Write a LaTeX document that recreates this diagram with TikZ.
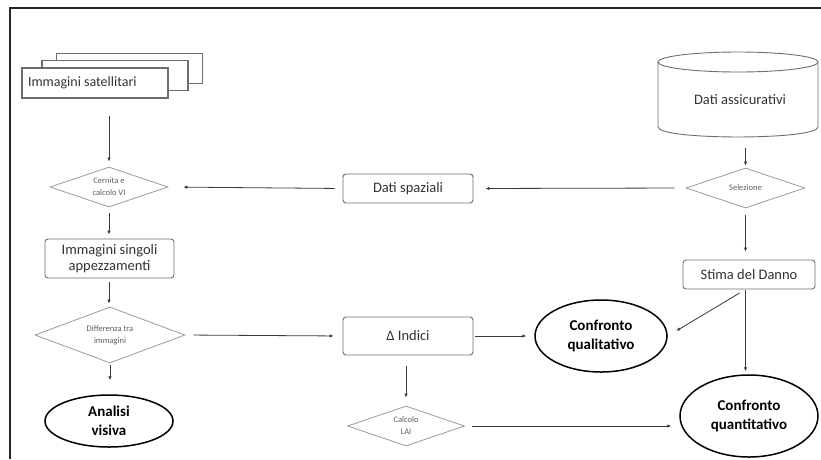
\documentclass[tikz,border=0pt]{standalone}
\usepackage{fontspec}
\setmainfont{Carlito}
\usetikzlibrary{shapes.geometric,arrows.meta}
\definecolor{boxgray}{HTML}{6E6E6E}
\definecolor{diagray}{HTML}{9A9A9A}
\definecolor{txtgray}{HTML}{333333}
\definecolor{smalltxt}{HTML}{5E5E5E}
\definecolor{arrgray}{HTML}{3A3A3A}
\tikzset{
  procbox/.style={draw=boxgray, line width=0.9pt, rounded corners=3pt, fill=white,
    text=txtgray, font=\fontsize{14.5}{17}\selectfont, align=center, inner sep=0pt},
  stackbox/.style={draw=boxgray, line width=1.1pt, fill=white, inner sep=0pt,
    minimum width=146pt, minimum height=30pt},
  decis/.style={diamond, draw=diagray, line width=0.8pt, aspect=3, inner sep=0pt,
    text=smalltxt, font=\fontsize{8.5}{12}\selectfont, align=center},
  term/.style={ellipse, draw=black, line width=1.5pt, inner sep=0pt,
    font=\bfseries\fontsize{15}{19.5}\selectfont, align=center},
  arr/.style={draw=arrgray, line width=0.8pt, -{Latex[length=4pt,width=3.5pt]}},
  frameline/.style={draw=black!85, line width=1.2pt}
}
\begin{document}
\begin{tikzpicture}[x=1pt,y=-1pt]
\useasboundingbox (0,0) rectangle (821,459);
\draw[frameline] (10,459) -- (10,8) -- (821,8);

% stacked satellite images
\node[stackbox] (satc) at (129.5,68.5) {};
\node[stackbox] (satb) at (115,75.5) {};
\node[stackbox, text=txtgray, font=\fontsize{14}{16}\selectfont, align=left] (sat) at (95,83)
  {\makebox[134pt][l]{Immagini satellitari}};

% left column
\node[decis, minimum width=118pt, minimum height=40pt] (cern) at (109,187) {Cernita e\\calcolo VI};
\node[procbox, minimum width=129pt, minimum height=39pt, font=\fontsize{14.5}{16.5}\selectfont] (imm) at (109.5,258.5) {Immagini singoli\\appezzamenti};
\node[decis, minimum width=150pt, minimum height=56pt] (diff) at (110,335) {Differenza tra\\immagini};
\node[term, minimum width=128pt, minimum height=52pt] (anal) at (109,421) {Analisi\\visiva};

% middle column
\node[procbox, minimum width=130pt, minimum height=29pt] (dsp) at (408,188.5) {Dati spaziali};
\node[procbox, minimum width=130pt, minimum height=38pt] (dind) at (408,336) {Δ Indici};
\node[decis, minimum width=117pt, minimum height=40pt] (lai) at (406,426) {Calcolo\\LAI};

% right column
\draw[draw=boxgray, line width=0.9pt, fill=white]
  (658,62) -- (658,127) .. controls (658,140.3) and (818,140.3) .. (818,127) -- (818,62);
\draw[draw=boxgray, line width=0.9pt] (738,62) ellipse [x radius=80pt, y radius=10pt];
\node[text=txtgray, font=\fontsize{14.5}{17}\selectfont] (dass) at (740,100) {Dati assicurativi};
\coordinate (dassb) at (745.5,137);

\node[decis, minimum width=119pt, minimum height=40pt] (sel) at (745.5,188) {Selezione};
\node[procbox, minimum width=132pt, minimum height=29pt] (stima) at (749,274.5) {Stima del Danno};
\node[term, minimum width=132pt, minimum height=72pt] (cqual) at (601,336) {Confronto\\qualitativo};
\node[term, minimum width=138pt, minimum height=82pt] (cquant) at (749,416) {Confronto\\quantitativo};

% connectors
\draw[arr, shorten <=17pt, shorten >=5pt] (sat.south -| cern.north) -- (cern.north);
\draw[arr, shorten <=8pt, shorten >=15pt] (dsp.west) -- (cern.east);
\draw[arr, shorten <=11pt, shorten >=12pt] (sel.west) -- (dsp.east);
\draw[arr, shorten <=6pt, shorten >=4pt] (cern.south) -- (cern.south |- imm.north);
\draw[arr, shorten <=4pt, shorten >=3pt] (cern.south |- imm.south) -- (cern.south |- diff.north);
\draw[arr, shorten <=2pt, shorten >=14pt] (diff.south) -- (diff.south |- anal.north);
\draw[arr, shorten <=8pt, shorten >=9pt] (diff.east) -- (dind.west);
\draw[arr, shorten <=2pt, shorten >=8pt] (dind.east) -- (cqual.west);
\draw[arr, shorten <=11pt, shorten >=8pt] (dind.south -| lai.north) -- (lai.north);
\draw[arr, shorten <=7pt, shorten >=8pt] (lai.east) -- (cquant.west |- lai.east);
\draw[arr, shorten <=11pt, shorten >=2pt] (dassb) -- (sel.north);
\draw[arr, shorten <=7pt, shorten >=8pt] (sel.south) -- (sel.south |- stima.north);
\draw[arr, shorten <=7pt, shorten >=10pt] (sel.south |- stima.south) -- (cqual.east);
\draw[arr, shorten <=1pt, shorten >=3pt] (sel.south |- stima.south) -- (sel.south |- cquant.north);
\end{tikzpicture}
\end{document}
